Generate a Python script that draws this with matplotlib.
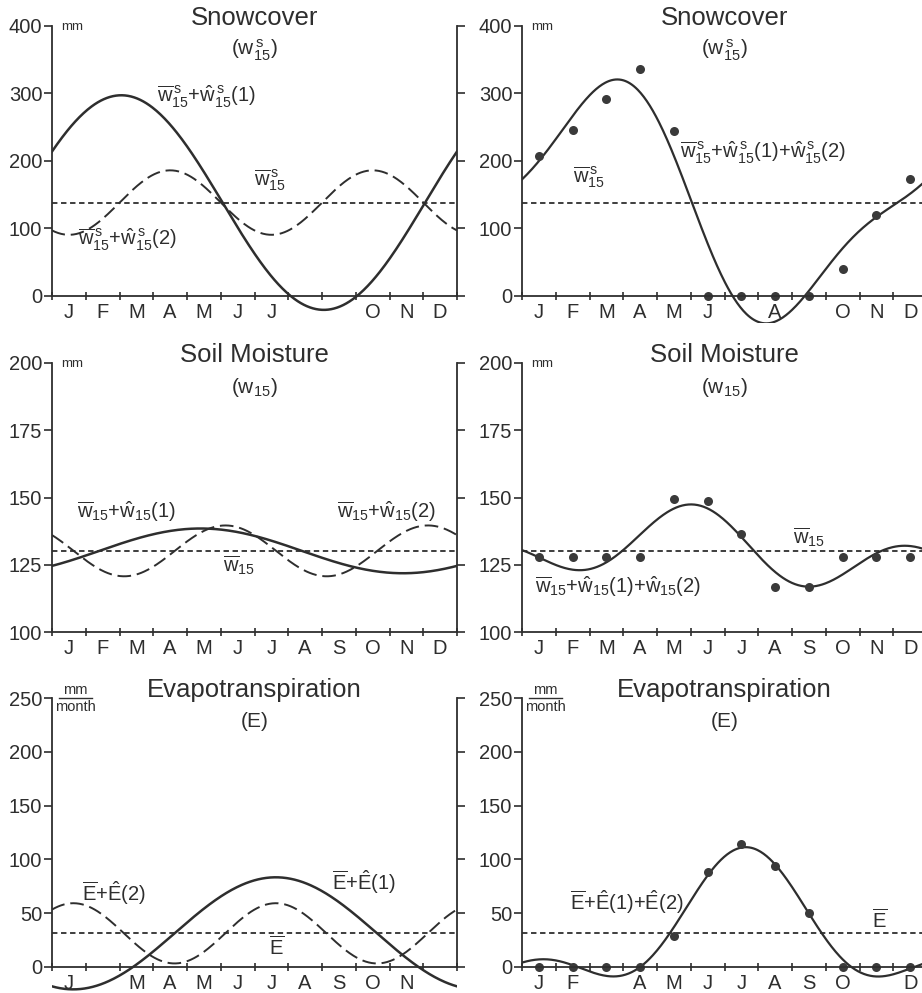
import numpy as np
import matplotlib
matplotlib.use('Agg')
import matplotlib.pyplot as plt

plt.rcParams['font.family'] = ['Liberation Sans', 'DejaVu Sans']
plt.rcParams['mathtext.fontset'] = 'custom'
plt.rcParams['mathtext.rm'] = 'Liberation Sans'
plt.rcParams['mathtext.it'] = 'Liberation Sans'
plt.rcParams['mathtext.bf'] = 'Liberation Sans:bold'

months = ['J', 'F', 'M', 'A', 'M', 'J', 'J', 'A', 'S', 'O', 'N', 'D']
snow_obs = [208, 246, 292, 336, 245, 0, 0, 0, 0, 40, 120, 174]
soil_obs = [127.7, 127.7, 127.7, 127.7, 149.6, 148.6, 136.4, 116.7, 116.7, 127.7, 127.7, 127.7]
evap_obs = [0, 0, 0, 0, 28.5, 88.6, 114.6, 93.6, 50.2, 0, 0, 0]

# month labels as printed under each panel (some are missing in the original)
snow_left_labels = ['J', 'F', 'M', 'A', 'M', 'J', 'J', '', '', 'O', 'N', 'D']
snow_right_labels = ['J', 'F', 'M', 'A', 'M', 'J', '', 'A', '', 'O', 'N', 'D']
soil_labels = months
evap_left_labels = ['J', '', 'M', 'A', 'M', 'J', 'J', 'A', 'S', 'O', 'N', '']
evap_right_labels = ['J', 'F', '', 'A', 'M', 'J', 'J', 'A', 'S', 'O', '', 'D']

snow_yticks = [0, 100, 200, 300, 400]
soil_yticks = [100, 125, 150, 175, 200]
evap_yticks = [0, 50, 100, 150, 200, 250]

INK = '#2e2e2e'
W, H = 922, 993
LAB = 14.5


def harmonic(obs, n, t):
    """n-th Fourier harmonic of the 12 monthly values (values at month centres)."""
    obs = np.asarray(obs, float)
    tk = np.arange(12) + 0.5
    w = 2 * np.pi * n / 12
    a = 2 / 12 * np.sum(obs * np.cos(w * tk))
    b = 2 / 12 * np.sum(obs * np.sin(w * tk))
    return a * np.cos(w * t) + b * np.sin(w * t)


fig = plt.figure(figsize=(W / 100, H / 100), dpi=100)
fig.patch.set_facecolor('white')


def make_axes(x0, x1, ytop_px, y0_px, ytop, y0, ymin, yticks, xlabels, right_spine):
    scale = (y0_px - ytop_px) / (ytop - y0)
    bottom_px = y0_px + (y0 - ymin) * scale
    ax = fig.add_axes([x0 / W, 1 - bottom_px / H, (x1 - x0) / W, (bottom_px - ytop_px) / H])
    ax.set_facecolor('none')
    ax.set_xlim(0, 12)
    ax.set_ylim(ymin, ytop)
    for s in ax.spines.values():
        s.set_color(INK)
        s.set_linewidth(1.3)
    ax.spines['top'].set_visible(False)
    ax.spines['left'].set_bounds(y0, ytop)
    ax.spines['bottom'].set_position(('data', y0))
    ax.spines['bottom'].set_bounds(0, 12)
    if right_spine:
        ax.spines['right'].set_bounds(y0, ytop)
    else:
        ax.spines['right'].set_visible(False)
    ax.set_yticks(yticks)
    ax.set_yticklabels([str(v) for v in yticks])
    ax.tick_params(axis='y', direction='out', length=6, width=1.2, color=INK,
                   labelsize=14.5, labelcolor=INK, pad=1, right=right_spine, labelright=False)
    ax.set_xticks(np.arange(13))
    ax.set_xticklabels([])
    ax.set_xticks(np.arange(12) + 0.5, minor=True)
    ax.set_xticklabels(xlabels, minor=True)
    ax.tick_params(axis='x', which='major', direction='inout', length=6, width=1.2, color=INK)
    ax.tick_params(axis='x', which='minor', length=0, labelsize=14.5, labelcolor=INK, pad=5)
    return ax


t = np.linspace(0, 12, 400)
tc = np.arange(12) + 0.5

LX0, LX1 = 52, 457
RX0, RX1 = 522, 927

panels = [
    # obs, ytop_px, y0_px, ytop, y0, ymin, yticks, left labels, right labels
    (snow_obs, 26, 296, 400, 0, -40, snow_yticks, snow_left_labels, snow_right_labels),
    (soil_obs, 363, 632, 200, 100, 100, soil_yticks, soil_labels, soil_labels),
    (evap_obs, 698, 967, 250, 0, -25, evap_yticks, evap_left_labels, evap_right_labels),
]

axes = []
for obs, ytp, y0p, ytop, y0, ymin, yt, llab, rlab in panels:
    axl = make_axes(LX0, LX1, ytp, y0p, ytop, y0, ymin, yt, llab, True)
    axr = make_axes(RX0, RX1, ytp, y0p, ytop, y0, ymin, yt, rlab, False)
    mean = np.mean(obs)
    h1 = harmonic(obs, 1, t)
    h2 = harmonic(obs, 2, t)
    # left: mean, mean+harmonic1, mean+harmonic2
    axl.axhline(mean, xmin=0, xmax=1, color=INK, lw=1.3, dashes=(3, 2))
    axl.plot(t, mean + h1, color=INK, lw=1.8)
    axl.plot(t, mean + h2, color=INK, lw=1.4, dashes=(7, 3))
    # right: mean, observations, mean+h1+h2
    axr.axhline(mean, xmin=0, xmax=1, color=INK, lw=1.3, dashes=(3, 2))
    axr.plot(t, mean + h1 + h2, color=INK, lw=1.6)
    axr.plot(tc, obs, 'o', ms=6.5, color='#3a3a3a', mec='none', clip_on=False)
    axes.append((axl, axr))

tk = dict(color=INK, clip_on=False)

# ---------------- Snowcover ----------------
axl, axr = axes[0]
for ax in (axl, axr):
    ax.text(6, 401, 'Snowcover', ha='center', va='baseline', fontsize=18.5, **tk)
    ax.text(6, 364, r'($\mathrm{w}^{\,\mathrm{s}}_{15}$)', ha='center', va='center', fontsize=15, **tk)
    ax.text(0.27, 399, 'mm', ha='left', va='center', fontsize=9.5, **tk)
axl.text(3.1, 295, r'$\overline{\mathrm{w}}^{\,\mathrm{s}}_{15}$+$\hat{\mathrm{w}}^{\,\mathrm{s}}_{15}$(1)',
         ha='left', va='center', fontsize=LAB, **tk)
axl.text(6.0, 172, r'$\overline{\mathrm{w}}^{\,\mathrm{s}}_{15}$', ha='left', va='center', fontsize=LAB, **tk)
axl.text(0.77, 83, r'$\overline{\mathrm{w}}^{\,\mathrm{s}}_{15}$+$\hat{\mathrm{w}}^{\,\mathrm{s}}_{15}$(2)',
         ha='left', va='center', fontsize=LAB, **tk)
axr.text(1.5, 176, r'$\overline{\mathrm{w}}^{\,\mathrm{s}}_{15}$', ha='left', va='center', fontsize=LAB, **tk)
axr.text(4.68, 212,
         r'$\overline{\mathrm{w}}^{\,\mathrm{s}}_{15}$+$\hat{\mathrm{w}}^{\,\mathrm{s}}_{15}$(1)+$\hat{\mathrm{w}}^{\,\mathrm{s}}_{15}$(2)',
         ha='left', va='center', fontsize=LAB, **tk)

# ---------------- Soil Moisture ----------------
axl, axr = axes[1]
for ax in (axl, axr):
    ax.text(6, 200.4, 'Soil Moisture', ha='center', va='baseline', fontsize=18.5, **tk)
    ax.text(6, 191, r'($\mathrm{w}_{15}$)', ha='center', va='center', fontsize=15, **tk)
    ax.text(0.27, 199.6, 'mm', ha='left', va='center', fontsize=9.5, **tk)
axl.text(0.75, 144.6, r'$\overline{\mathrm{w}}_{15}$+$\hat{\mathrm{w}}_{15}$(1)', ha='left', va='center', fontsize=LAB, **tk)
axl.text(8.43, 144.6, r'$\overline{\mathrm{w}}_{15}$+$\hat{\mathrm{w}}_{15}$(2)', ha='left', va='center', fontsize=LAB, **tk)
axl.text(5.06, 124.9, r'$\overline{\mathrm{w}}_{15}$', ha='left', va='center', fontsize=LAB, **tk)
axr.text(8.03, 135.3, r'$\overline{\mathrm{w}}_{15}$', ha='left', va='center', fontsize=LAB, **tk)
axr.text(0.38, 116.7, r'$\overline{\mathrm{w}}_{15}$+$\hat{\mathrm{w}}_{15}$(1)+$\hat{\mathrm{w}}_{15}$(2)',
         ha='left', va='center', fontsize=LAB, **tk)

# ---------------- Evapotranspiration ----------------
axl, axr = axes[2]
for ax in (axl, axr):
    ax.text(6, 250.5, 'Evapotranspiration', ha='center', va='baseline', fontsize=18.5, **tk)
    ax.text(6, 227.7, '(E)', ha='center', va='center', fontsize=15, **tk)
    ax.text(0.68, 251, 'mm', ha='center', va='bottom', fontsize=10.5, **tk)
    ax.text(0.68, 248.5, 'month', ha='center', va='top', fontsize=10.5, **tk)
    ax.plot([0.2, 1.18], [250, 250], color=INK, lw=1.0, clip_on=False)
axl.text(0.88, 68.8, r'$\overline{\mathrm{E}}$+$\hat{\mathrm{E}}$(2)', ha='left', va='center', fontsize=LAB, **tk)
axl.text(8.3, 79, r'$\overline{\mathrm{E}}$+$\hat{\mathrm{E}}$(1)', ha='left', va='center', fontsize=LAB, **tk)
axl.text(6.66, 18.6, r'$\overline{\mathrm{E}}$', ha='center', va='center', fontsize=LAB, **tk)
axr.text(1.42, 60, r'$\overline{\mathrm{E}}$+$\hat{\mathrm{E}}$(1)+$\hat{\mathrm{E}}$(2)', ha='left', va='center', fontsize=LAB, **tk)
axr.text(10.6, 43.7, r'$\overline{\mathrm{E}}$', ha='center', va='center', fontsize=LAB, **tk)

fig.savefig('out.png', dpi=100, facecolor='white')
